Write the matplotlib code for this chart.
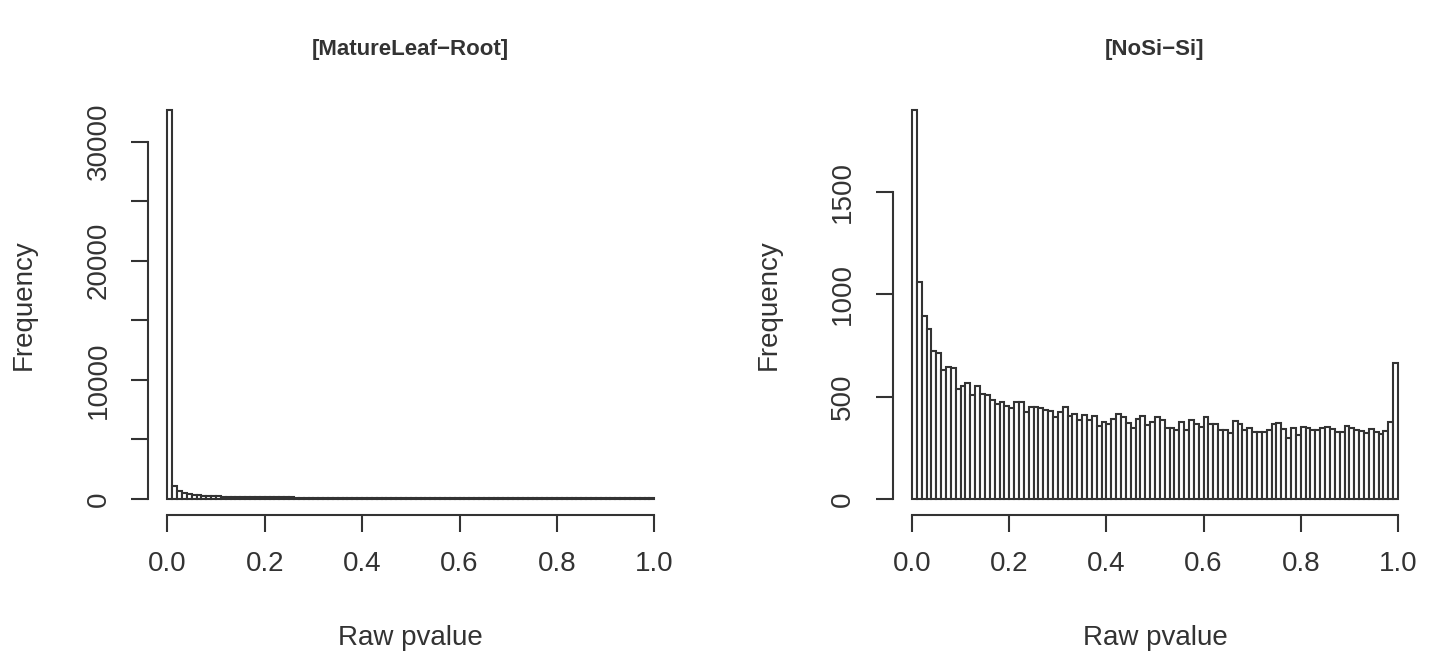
import numpy as np
import matplotlib
matplotlib.use("Agg")
import matplotlib.pyplot as plt

"""Raw p-value histograms for two contrasts, 100 bins each, drawn R-style."""

# Counts per 0.01-wide p-value bin (0.00-0.01, 0.01-0.02, ..., 0.99-1.00)
titles = ["[MatureLeaf\u2212Root]", "[NoSi\u2212Si]"]

counts_leaf_root = [
    32650, 1080, 690, 510, 410, 350, 300, 270, 245, 225,
    210, 200, 192, 182, 176, 168, 161, 156, 150, 146,
    141, 137, 133, 130, 127, 123, 121, 118, 116, 113,
    112, 109, 107, 106, 103, 101, 100, 98, 97, 95,
    94, 92, 91, 90, 89, 88, 87, 86, 85, 84,
    83, 82, 81, 81, 80, 79, 78, 78, 77, 76,
    76, 75, 75, 74, 73, 73, 72, 72, 71, 71,
    70, 70, 69, 69, 68, 68, 68, 67, 67, 66,
    66, 66, 65, 65, 65, 64, 64, 64, 63, 63,
    63, 62, 62, 62, 62, 61, 61, 61, 61, 70,
]

counts_nosi_si = [
    1900, 1060, 892, 832, 724, 713, 631, 647, 640, 538,
    553, 566, 506, 553, 513, 507, 481, 466, 475, 455,
    442, 473, 473, 427, 450, 451, 444, 435, 428, 400,
    427, 448, 407, 414, 386, 412, 387, 407, 358, 375,
    366, 391, 417, 399, 371, 345, 393, 407, 362, 375,
    400, 384, 348, 348, 335, 374, 338, 384, 367, 351,
    400, 367, 367, 338, 338, 322, 380, 364, 335, 348,
    328, 328, 328, 338, 364, 371, 341, 299, 345, 312,
    351, 345, 335, 338, 348, 351, 341, 328, 328, 354,
    345, 335, 331, 322, 341, 328, 318, 331, 377, 666,
]

x_ticks = [0.0, 0.2, 0.4, 0.6, 0.8, 1.0]
y_ticks_leaf_root = [0, 5000, 10000, 15000, 20000, 25000, 30000]
y_labels_leaf_root = ["0", "", "10000", "", "20000", "", "30000"]
y_ticks_nosi_si = [0, 500, 1000, 1500]
y_labels_nosi_si = ["0", "500", "1000", "1500"]

ink = "#333333"
plt.rcParams["font.family"] = ["Liberation Sans", "DejaVu Sans"]
plt.rcParams["text.color"] = ink

fig = plt.figure(figsize=(14.35, 6.57), dpi=100)

# axes boxes in figure fractions (plot region incl. R's 4% padding)
boxes = [
    [147.8 / 1435, 1 - 514.5 / 657, 526.0 / 1435, 420.0 / 657],
    [892.6 / 1435, 1 - 514.5 / 657, 524.8 / 1435, 420.0 / 657],
]

panels = [
    (counts_leaf_root, y_ticks_leaf_root, y_labels_leaf_root),
    (counts_nosi_si, y_ticks_nosi_si, y_labels_nosi_si),
]

edges = np.linspace(0, 1, 101)

for box, title, (counts, yt, yl) in zip(boxes, titles, panels):
    ax = fig.add_axes(box)
    counts = np.array(counts)
    ax.bar(edges[:-1], counts, width=np.diff(edges), align="edge",
           facecolor="white", edgecolor=ink, linewidth=1.5)

    ymax = counts.max()
    ax.set_xlim(-0.04, 1.04)
    ax.set_ylim(-0.04 * ymax, 1.04 * ymax)

    for side in ["top", "right"]:
        ax.spines[side].set_visible(False)
    ax.spines["left"].set_bounds(yt[0], yt[-1])
    ax.spines["bottom"].set_bounds(0, 1)
    for side in ["left", "bottom"]:
        ax.spines[side].set_color(ink)
        ax.spines[side].set_linewidth(1.5)

    ax.set_xticks(x_ticks)
    ax.set_xticklabels([f"{v:.1f}" for v in x_ticks])
    ax.set_yticks(yt)
    ax.set_yticklabels(yl, rotation=90, va="center")
    ax.tick_params(direction="out", length=12.2, width=1.5, color=ink,
                   labelcolor=ink, labelsize=20, pad=14)

    ax.set_xlabel("Raw pvalue", fontsize=20, color=ink)
    ax.xaxis.label.set_va("center")
    ax.xaxis.set_label_coords(0.5, (514.5 - 638) / 420)
    ax.set_ylabel("Frequency", fontsize=20, color=ink)
    ax.yaxis.label.set_va("center")
    ax.yaxis.set_label_coords((24 - 147.8) / 526, 0.5)

    ax.text(0.5, (514.5 - 50) / 420, title, transform=ax.transAxes,
            ha="center", va="center", fontsize=16, fontweight="bold", color=ink)

plt.savefig("out.png", dpi=100)
